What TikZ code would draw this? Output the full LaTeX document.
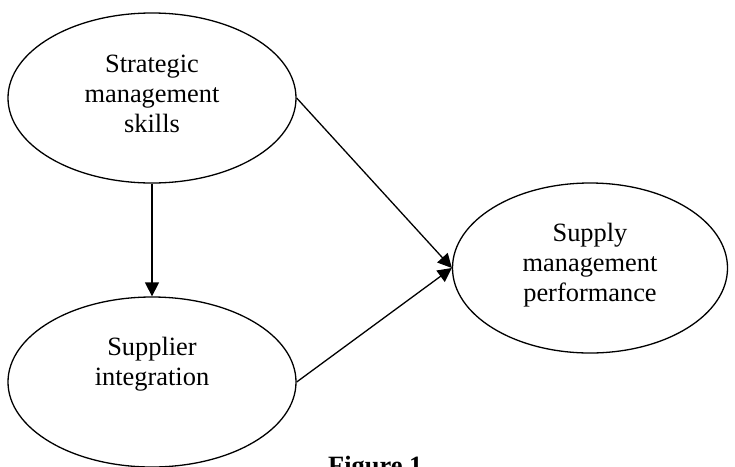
\documentclass[tikz,border=0pt]{standalone}
\usepackage{fontspec}
\setmainfont{Liberation Serif}
\usetikzlibrary{shapes.geometric,arrows.meta}
\begin{document}
\begin{tikzpicture}[x=1pt,y=-1pt,
  ell/.style={draw,ellipse,line width=1.3pt,inner sep=0pt,minimum width=288pt,minimum height=170pt},
  lbl/.style={align=center,font=\fontsize{26.4}{30}\selectfont,inner sep=0pt},
  conn/.style={line width=1.3pt,-{Triangle[length=14pt,width=14pt]}}]
\useasboundingbox (0,0) rectangle (735,466);
\node[ell] (sms) at (152,98) {};
\node[ell] (si) at (152,382) {};
\node[ell,minimum width=275pt] (smp) at (590,268) {};
\node[lbl,yshift=4pt] (smsT) at (sms.center) {Strategic\\management\\skills};
\node[lbl,yshift=18pt] (siT) at (si.center) {Supplier\\integration};
\node[lbl,yshift=3pt] (smpT) at (smp.center) {Supply\\management\\performance};
\draw[conn] (sms.south) -- (si.north);
\draw[conn] (sms.east) -- (smp.west);
\draw[conn] (si.east) -- (smp.west);
\node[anchor=base west,inner sep=0pt,font=\fontsize{26.4}{30}\selectfont\bfseries] (fig) at (328,474) {Figure 1};
\end{tikzpicture}
\end{document}
